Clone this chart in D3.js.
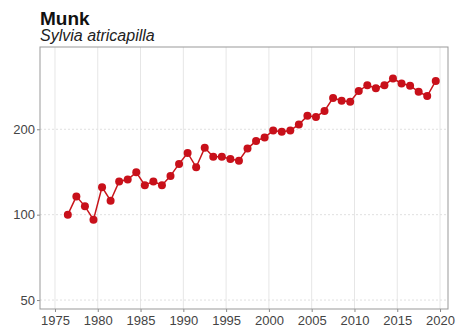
<!DOCTYPE html>
<html>
<head>
<meta charset="utf-8">
<script src="https://cdn.jsdelivr.net/npm/d3@7"></script>
<style>
  body { margin: 0; background: #fff; }
  text { font-family: "Liberation Sans", Arial, sans-serif; }
</style>
</head>
<body>
<div id="chart-area"></div>
<script>
// data (index, log scale)
const years = [1976, 1977, 1978, 1979, 1980, 1981, 1982, 1983, 1984, 1985,
               1986, 1987, 1988, 1989, 1990, 1991, 1992, 1993, 1994, 1995,
               1996, 1997, 1998, 1999, 2000, 2001, 2002, 2003, 2004, 2005,
               2006, 2007, 2008, 2009, 2010, 2011, 2012, 2013, 2014, 2015,
               2016, 2017, 2018, 2019]
const values = [100, 116, 107, 96, 125, 112, 131, 133, 141, 127,
                131, 127, 137, 151, 165, 147, 172, 160, 160, 157,
                155, 171, 182, 187, 198, 196, 198, 208, 223, 221,
                232, 258, 252, 250, 273, 286, 279, 286, 302, 290,
                285, 271, 262, 296]
const xTicks = [1975, 1980, 1985, 1990, 1995, 2000, 2005, 2010, 2015, 2020]
const yTicks = [50, 100, 200]

const title = "Munk"
const subtitle = "Sylvia atricapilla"

const dataset = years.map((y, i) => ({ year: y, value: values[i] }))

const svgWidth = 459
const svgHeight = 334
const margin = { left: 40, right: 11, top: 47, bottom: 25 }
const chartWidth = svgWidth - margin.left - margin.right
const chartHeight = svgHeight - margin.top - margin.bottom

// points sit at mid-year
const xAccessor = d => d.year + 0.5
const yAccessor = d => d.value

const xScale = d3.scaleLinear()
    .domain([1973.25, 2020.93])
    .range([0, chartWidth])

const yScale = d3.scaleLog()
    .domain([46.5, 390])
    .range([chartHeight, 0])

const svg = d3.select("#chart-area")
    .append("svg")
    .attr("width", svgWidth)
    .attr("height", svgHeight)

svg.append("text")
    .attr("x", 40)
    .attr("y", 25)
    .attr("font-size", 19)
    .attr("font-weight", "bold")
    .attr("fill", "#111")
    .text(title)

svg.append("text")
    .attr("x", 40)
    .attr("y", 41)
    .attr("font-size", 16)
    .attr("font-style", "italic")
    .attr("fill", "#222")
    .text(subtitle)

const chart = svg.append("g")
    .attr("transform", `translate(${margin.left},${margin.top})`)

// grid
chart.append("g")
    .selectAll("line")
    .data(xTicks)
    .join("line")
    .attr("x1", d => xScale(d))
    .attr("x2", d => xScale(d))
    .attr("y1", 0)
    .attr("y2", chartHeight)
    .attr("stroke", "#e6e6e6")
    .attr("stroke-width", 1)

chart.append("g")
    .selectAll("line")
    .data(yTicks)
    .join("line")
    .attr("x1", 0)
    .attr("x2", chartWidth)
    .attr("y1", d => yScale(d))
    .attr("y2", d => yScale(d))
    .attr("stroke", "#e0e0e0")
    .attr("stroke-width", 1)
    .attr("stroke-dasharray", "2,2")

// axes
const xAxis = chart.append("g")
    .attr("transform", `translate(0,${chartHeight})`)
    .call(d3.axisBottom(xScale).tickValues(xTicks).tickFormat(d3.format("d")).tickSize(3).tickPadding(4))

const yAxis = chart.append("g")
    .call(d3.axisLeft(yScale).tickValues(yTicks).tickFormat(d3.format("d")).tickSize(3).tickPadding(2))

;[xAxis, yAxis].forEach(g => {
    g.select(".domain").remove()
    g.selectAll(".tick line").attr("stroke", "#888")
    g.selectAll(".tick text")
        .attr("fill", "#444")
        .attr("font-size", 13)
        .attr("font-family", "Liberation Sans, Arial, sans-serif")
})

// panel border
chart.append("rect")
    .attr("x", 0)
    .attr("y", 0)
    .attr("width", chartWidth)
    .attr("height", chartHeight)
    .attr("fill", "none")
    .attr("stroke", "#999")
    .attr("stroke-width", 1)

const lineGenerator = d3.line()
    .x(d => xScale(xAccessor(d)))
    .y(d => yScale(yAccessor(d)))

chart.append("path")
    .attr("d", lineGenerator(dataset))
    .attr("fill", "none")
    .attr("stroke", "#c8141a")
    .attr("stroke-width", 1.5)

chart.append("g")
    .selectAll("circle")
    .data(dataset)
    .join("circle")
    .attr("cx", d => xScale(xAccessor(d)))
    .attr("cy", d => yScale(yAccessor(d)))
    .attr("r", 4)
    .attr("fill", "#c8101a")
</script>
</body>
</html>
